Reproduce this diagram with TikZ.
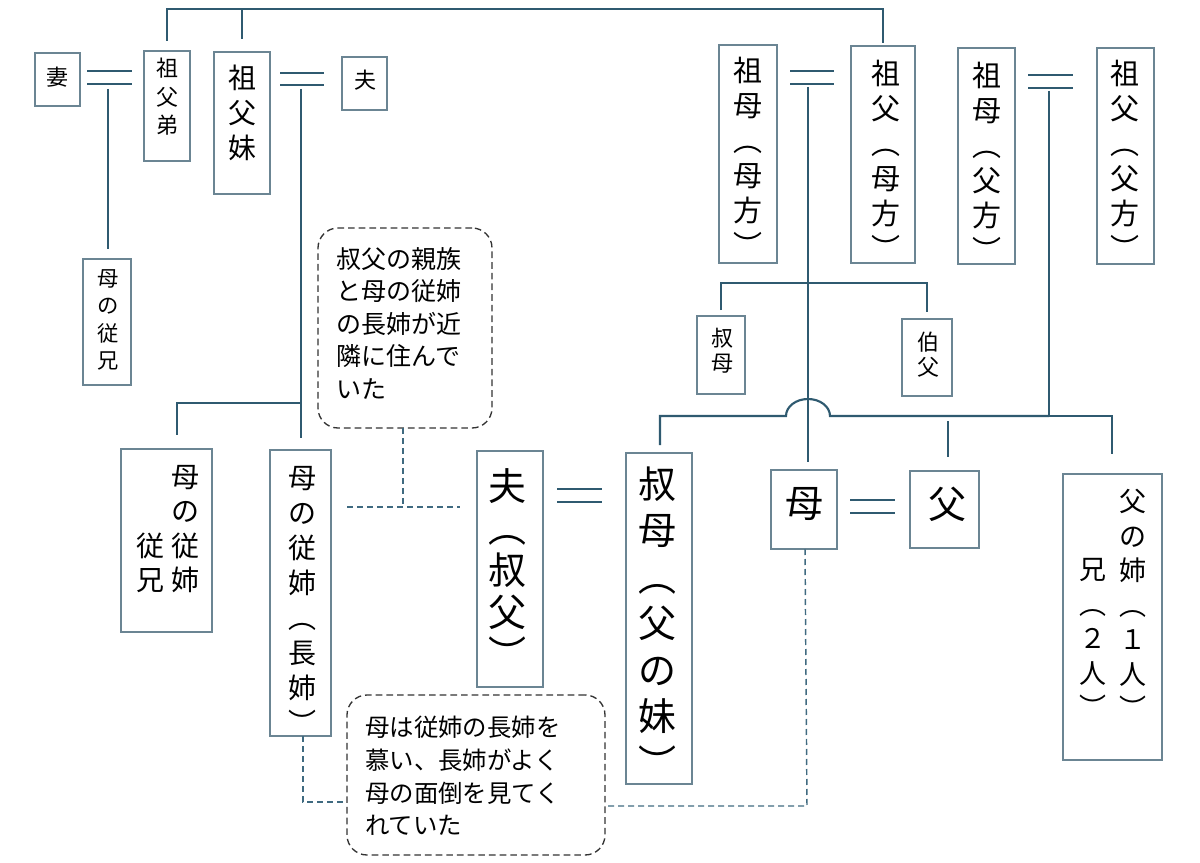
\documentclass[tikz,border=0pt]{standalone}
\usepackage{fontspec}
\newfontfamily\cjk{Noto Sans CJK JP}
\usetikzlibrary{calc}
\definecolor{conn}{HTML}{2F5A70}
\definecolor{boxc}{HTML}{6B8593}
\definecolor{callc}{HTML}{333333}
\definecolor{dashc}{HTML}{3F6A80}
\newcommand\pbox[5]{\node[box, minimum width={(#4-#2)*0.75pt}, minimum height={(#5-#3)*0.75pt}] (#1) at ({(#2+#4)/2},{(#3+#5)/2}) {};}
\newcommand\cbox[5]{\node[callout, minimum width={(#4-#2)*0.75pt}, minimum height={(#5-#3)*0.75pt}] (#1) at ({(#2+#4)/2},{(#3+#5)/2}) {};}
\begin{document}
\begin{tikzpicture}[x=0.75pt,y=-0.75pt,
  box/.style={draw=boxc, line width=1pt, inner sep=0pt, outer sep=0pt},
  callout/.style={draw=callc, dash pattern=on 5pt off 3pt, rounded corners=15pt, line width=1pt, inner sep=0pt, outer sep=0pt},
  ln/.style={draw=conn, line width=1.6pt},
  dbl/.style={draw=conn, line width=1.6pt, double=white, double distance=8pt},
  dconn/.style={draw=dashc, line width=1.1pt, dash pattern=on 4.5pt off 3pt},
  vt/.style={align=center, inner sep=0pt, text=black}
]
\useasboundingbox[fill=white] (0,0) rectangle (1200,863);

% boxes
\pbox{tsuma}{35}{53}{80}{106}
\pbox{sofutei}{144}{51}{190}{161}
\pbox{sofumai}{214}{52}{270}{194}
\pbox{otto1}{342}{57}{387}{110}
\pbox{hitoko}{83}{259}{131}{385}
\pbox{sobom}{719}{45}{777}{263}
\pbox{sofum}{851}{46}{915}{263}
\pbox{sobof}{958}{48}{1015}{264}
\pbox{sofuf}{1097}{48}{1154}{264}
\pbox{shukubos}{697}{316}{745}{394}
\pbox{hakufu}{902}{319}{952}{396}
\pbox{itoko}{121}{449}{212}{632}
\pbox{choushi}{270}{450}{331}{736}
\pbox{oji}{477}{451}{543}{687}
\pbox{shukubo}{626}{453}{692}{784}
\pbox{haha}{771}{470}{837}{549}
\pbox{chichi}{910}{471}{979}{548}
\pbox{fukei}{1063}{474}{1162}{760}
\cbox{callA}{318}{228}{492}{428}
\cbox{callB}{347}{695}{605}{855}

% texts
\node[vt, font=\cjk\fontsize{16.5pt}{20pt}\selectfont] (t1) at (57,77) {妻};
\node[vt, font=\cjk\fontsize{16.5pt}{21.4pt}\selectfont] (t2) at (167,97) {祖\\父\\弟};
\node[vt, font=\cjk\fontsize{21pt}{26.25pt}\selectfont] (t3) at (242,113) {祖\\父\\妹};
\node[vt, font=\cjk\fontsize{16.5pt}{20pt}\selectfont] (t4) at (365,80) {夫};
\node[vt, font=\cjk\fontsize{16pt}{20.5pt}\selectfont] (t5) at (108,320) {母\\の\\従\\兄};
\node[vt, font=\cjk\fontsize{21.75pt}{26.25pt}\selectfont] (t6) at (748,157) {祖\\母\\︵\\母\\方\\︶};
\node[vt, font=\cjk\fontsize{21.75pt}{26.25pt}\selectfont] (t7) at (886,160) {祖\\父\\︵\\母\\方\\︶};
\node[vt, font=\cjk\fontsize{21.75pt}{26.25pt}\selectfont] (t8) at (987,162) {祖\\母\\︵\\父\\方\\︶};
\node[vt, font=\cjk\fontsize{21.75pt}{26.25pt}\selectfont] (t9) at (1125,160) {祖\\父\\︵\\父\\方\\︶};
\node[vt, font=\cjk\fontsize{16.5pt}{18.75pt}\selectfont] (t10) at (722,351) {叔\\母};
\node[vt, font=\cjk\fontsize{16.5pt}{18.75pt}\selectfont] (t11) at (928,355) {伯\\父};
\node[vt, font=\cjk\fontsize{21pt}{25.7pt}\selectfont] (t12) at (185,529) {母\\の\\従\\姉};
\node[vt, font=\cjk\fontsize{21pt}{25.7pt}\selectfont] (t13) at (150,563) {従\\兄};
\node[vt, font=\cjk\fontsize{21pt}{26.25pt}\selectfont] (t14) at (302,600) {母\\の\\従\\姉\\︵\\長\\姉\\︶};
\node[vt, font=\cjk\fontsize{28.5pt}{31.5pt}\selectfont] (t15) at (507,569) {夫\\︵\\叔\\父\\︶};
\node[vt, font=\cjk\fontsize{28.5pt}{34.9pt}\selectfont] (t16) at (657,622) {叔\\母\\︵\\父\\の\\妹\\︶};
\node[vt, font=\cjk\fontsize{28.5pt}{34pt}\selectfont] (t17) at (804,504) {母};
\node[vt, font=\cjk\fontsize{28.5pt}{34pt}\selectfont] (t18) at (947,504) {父};
\node[vt, font=\cjk\fontsize{20.25pt}{25.9pt}\selectfont] (t19) at (1133,604) {父\\の\\姉\\︵\\１\\人\\︶};
\node[vt, font=\cjk\fontsize{20.25pt}{25.9pt}\selectfont] (t20) at (1093,638) {兄\\︵\\２\\人\\︶};
\node[align=left, anchor=west, inner sep=0pt, font=\cjk\fontsize{18.75pt}{24.4pt}\selectfont] (t21) at (336,323) {叔父の親族\\と母の従姉\\の長姉が近\\隣に住んで\\いた};
\node[align=left, anchor=west, inner sep=0pt, font=\cjk\fontsize{18.3pt}{24.5pt}\selectfont] (t22) at (365,776) {母は従姉の長姉を\\慕い、長姉がよく\\母の面倒を見てく\\れていた};

% marriage lines
\coordinate (d1a) at (87,77.5);   \coordinate (d1b) at (132,77.5);
\coordinate (d2a) at (280,79);    \coordinate (d2b) at (324,79);
\coordinate (d3a) at (790,77.5);  \coordinate (d3b) at (834,77.5);
\coordinate (d4a) at (1028,81.5); \coordinate (d4b) at (1073,81.5);
\coordinate (d5a) at (557,495.5); \coordinate (d5b) at (602,495.5);
\coordinate (d6a) at (850,506.5); \coordinate (d6b) at (895,506.5);
\draw[dbl] (d1a) -- (d1b);
\draw[dbl] (d2a) -- (d2b);
\draw[dbl] (d3a) -- (d3b);
\draw[dbl] (d4a) -- (d4b);
\draw[dbl] (d5a) -- (d5b);
\draw[dbl] (d6a) -- (d6b);

% top sibling bar
\coordinate (topbar) at (0,9);
\draw[ln] ([yshift=7.5pt]sofutei.north) -- (sofutei.north |- topbar) -- (sofum.north |- topbar) -- ([yshift=2.25pt]sofum.north);
\draw[ln] ([yshift=10pt]sofumai.north) -- (sofumai.north |- topbar);

% left descent
\coordinate (m1) at (108,89);
\draw[ln] (m1) -- ([yshift=7.5pt]hitoko.north -| m1);

\coordinate (m2) at (301,89);
\coordinate (j2) at (301,403);
\draw[ln] (m2) -- (j2) -- ([yshift=9pt]choushi.north -| j2);
\draw[ln] (j2) -- (177,403) coordinate (j2l) -- ([yshift=10.5pt]itoko.north -| j2l);

% maternal grandparents' children
\coordinate (m3) at (808,87);
\coordinate (j3) at (808,283);
\draw[ln] (m3) -- ([yshift=6pt]haha.north -| m3);
\draw[ln] ([yshift=4.5pt]shukubos.north) -- (shukubos.north |- j3) -- (hakufu.north |- j3) -- ([yshift=5.25pt]hakufu.north);

% paternal grandparents' children
\coordinate (m4) at (1049,91);
\coordinate (j4) at (1049,416);
\draw[ln] (m4) -- (j4);
\draw[ln] ([yshift=6pt]shukubo.north -| 660,0) -- (660,416) -- (786,416)
  arc[start angle=180, end angle=0, x radius=16.5pt, y radius=12.75pt]
  -- (j4);
\draw[ln] (j4) -- (1112,416) -- ([yshift=15pt]fukei.north -| 1112,0);
\draw[ln] (948,421) -- ([yshift=10.5pt]chichi.north -| 948,0);

% dashed relations
\draw[dconn] (callA.south -| 403,0) -- (403,507) coordinate (j5);
\draw[dconn] ([xshift=12pt]choushi.east |- j5) -- ([xshift=-12.75pt]oji.west |- j5);
\coordinate (j6) at (303,802);
\draw[dconn] (choushi.south -| j6) -- (j6) -- (j6 -| callB.west);
\coordinate (j7) at (807,806);
\draw[dconn] (haha.south -| 805,0) -- (j7) -- (j7 -| callB.east);
\end{tikzpicture}
\end{document}
